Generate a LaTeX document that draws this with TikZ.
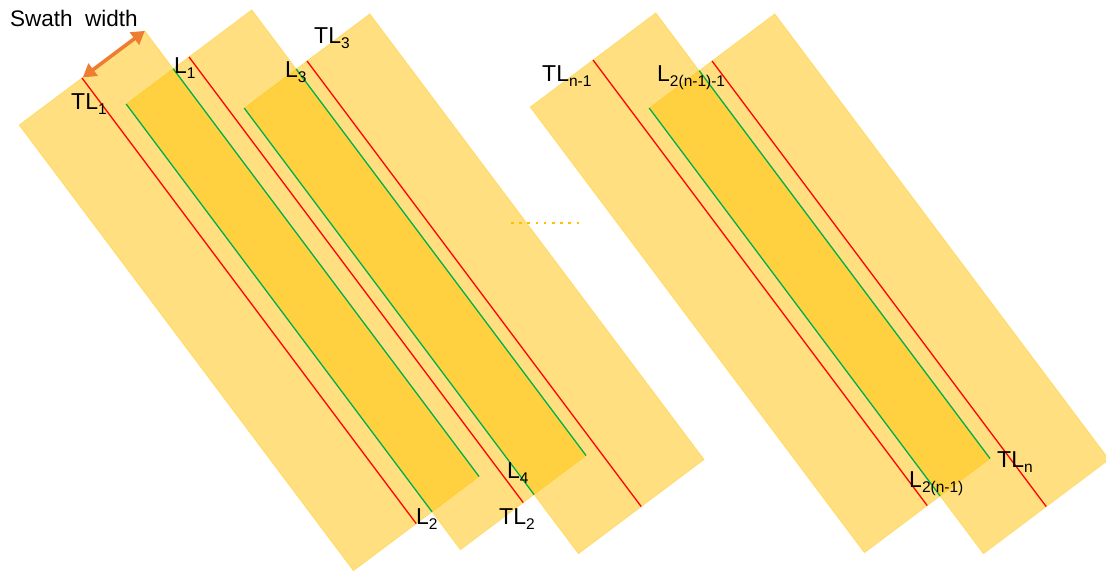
\documentclass[tikz,border=0pt]{standalone}
\usepackage{fontspec}
\setmainfont{Liberation Sans}
\usetikzlibrary{calc,arrows.meta}

\definecolor{swath}{HTML}{FFC000}
\definecolor{trackred}{HTML}{FF0000}
\definecolor{linegreen}{HTML}{00B050}
\definecolor{arroworange}{HTML}{ED7D31}

% label with a lowered subscript
\newcommand\sublabel[2]{\fontsize{23}{23}\selectfont #1\raisebox{-5pt}{\fontsize{15.5}{15.5}\selectfont #2}}

\begin{document}
\begin{tikzpicture}[x=1pt,y=-1pt,
  strip/.style={fill=swath, fill opacity=0.5, draw=swath, draw opacity=0.3, line width=1pt},
  trackline/.style={draw=trackred, line width=1.3pt},
  edgeline/.style={draw=linegreen, line width=1.3pt},
  lbl/.style={anchor=base west, inner sep=0pt, text=black},
  widtharrow/.style={draw=arroworange, line width=3.6pt,
    {Triangle[length=13pt,width=15pt]}-{Triangle[length=13pt,width=15pt]}},
  dots/.style={draw=swath, line width=2.6pt, dash pattern=on 2.6pt off 5.6pt},
]
\useasboundingbox (0,0) rectangle (1106,572);

% each swath: centre line start, length along (0.6,0.8), half width across (0.8,-0.6)
\foreach \i/\x/\y in {1/82/78, 2/189/57, 3/307/61, 4/593/60, 5/712/61} {
  \coordinate (T\i) at (\x,\y);
  \coordinate (B\i) at ($(T\i)+(334.2,445.6)$);
  \coordinate (lft\i) at ($(T\i)+(-62.8,47.1)$);
  \coordinate (top\i) at ($(T\i)+(62.8,-47.1)$);
  \coordinate (rgt\i) at ($(B\i)+(62.8,-47.1)$);
  \coordinate (bot\i) at ($(B\i)+(-62.8,47.1)$);
}

% swaths (overlaps come out darker)
\foreach \i in {1,...,5} {
  \draw[strip] (lft\i) -- (top\i) -- (rgt\i) -- (bot\i) -- cycle;
}

% survey lines along the overlap edges
\draw[edgeline] (intersection of top1--rgt1 and lft2--top2) -- (rgt1);
\draw[edgeline] (lft2) -- (intersection of lft2--bot2 and bot1--rgt1);
\draw[edgeline] (intersection of top2--rgt2 and lft3--top3) -- (rgt2);
\draw[edgeline] (lft3) -- (intersection of lft3--bot3 and bot2--rgt2);
\draw[edgeline] (intersection of top4--rgt4 and lft5--top5) -- (rgt4);
\draw[edgeline] (lft5) -- (intersection of lft5--bot5 and bot4--rgt4);

% track lines
\foreach \i in {1,...,5} {
  \draw[trackline] (T\i) -- (B\i);
}

% swath width arrow
\draw[widtharrow, shorten <=1pt] (T1) -- (top1);

% ellipsis between the groups
\coordinate (d0) at (511,223);
\coordinate (d1) at (580,223);
\draw[dots] (d0) -- (d1);

% labels
\node[lbl] (sw) at (10,27) {\fontsize{22.5}{22.5}\selectfont Swath\hspace{0.55em}width};
\node[lbl] (tl1) at (71,110) {\sublabel{TL}{1}};
\node[lbl] (l1) at (174,74) {\sublabel{L}{1}};
\node[lbl] (l3) at (285,78) {\sublabel{L}{3}};
\node[lbl] (tl3) at (314,44) {\sublabel{TL}{3}};
\node[lbl] (tln1) at (542,82) {\sublabel{TL}{n-1}};
\node[lbl] (l2n1a) at (657,82) {\sublabel{L}{2(n-1)-1}};
\node[lbl] (l2) at (416,524) {\sublabel{L}{2}};
\node[lbl] (tl2) at (499,524) {\sublabel{TL}{2}};
\node[lbl] (l4) at (507,478) {\sublabel{L}{4}};
\node[lbl] (l2n1) at (909,487) {\sublabel{L}{2(n-1)}};
\node[lbl] (tln) at (997,467) {\sublabel{TL}{n}};
\end{tikzpicture}
\end{document}
